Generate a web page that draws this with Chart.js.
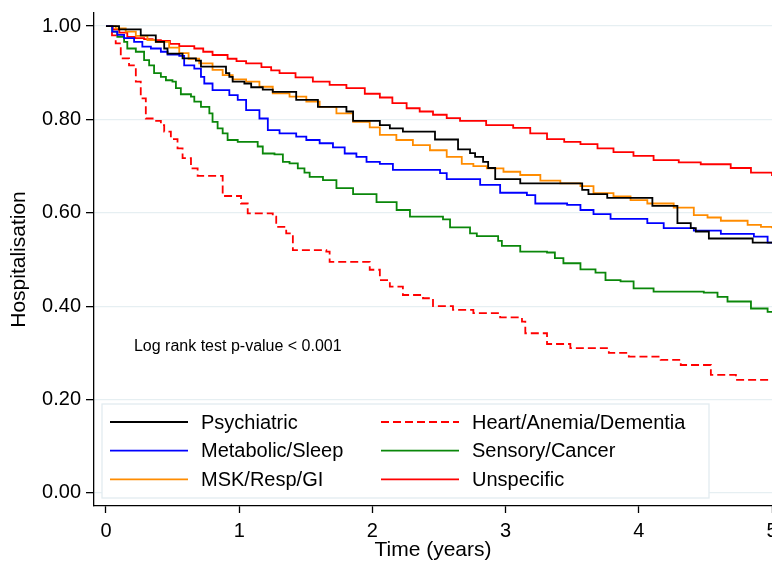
<!DOCTYPE html>
<html>
<head>
<meta charset="utf-8">
<script src="https://cdn.jsdelivr.net/npm/chart.js@4.4.1/dist/chart.umd.min.js"></script>
<style>
  html, body { margin: 0; padding: 0; background: #fff; }
</style>
</head>
<body>
<canvas id="kmChart" width="772" height="563"></canvas>
<script>
// Kaplan-Meier curves, time in years / proportion without hospitalisation
var labels = ["Psychiatric", "Metabolic/Sleep", "MSK/Resp/GI", "Heart/Anemia/Dementia", "Sensory/Cancer", "Unspecific"];
var xTicks = [0, 1, 2, 3, 4, 5];
var yTicks = [0, 0.2, 0.4, 0.6, 0.8, 1.0];

var psychT = [0, 0.098, 0.261, 0.374, 0.437, 0.462, 0.575, 0.675, 0.713, 0.901, 0.926, 0.951, 1.039, 1.090, 1.177, 1.252, 1.428, 1.591, 1.805, 1.855, 2.056, 2.131, 2.229, 2.470, 2.643, 2.733, 2.771, 2.831, 2.869, 2.922, 3.110, 3.575, 3.622, 3.763, 4.102, 4.290, 4.390, 4.428, 4.526, 4.855, 5.0];
var psychS = [1, 0.993, 0.980, 0.966, 0.952, 0.941, 0.931, 0.926, 0.913, 0.899, 0.891, 0.881, 0.877, 0.869, 0.864, 0.859, 0.842, 0.827, 0.817, 0.797, 0.788, 0.781, 0.774, 0.757, 0.736, 0.728, 0.720, 0.709, 0.696, 0.672, 0.663, 0.649, 0.640, 0.632, 0.615, 0.578, 0.567, 0.560, 0.545, 0.536, 0.536];

var metabT = [0, 0.047, 0.085, 0.136, 0.211, 0.273, 0.337, 0.412, 0.462, 0.550, 0.587, 0.663, 0.713, 0.738, 0.800, 0.926, 0.989, 1.052, 1.152, 1.215, 1.303, 1.428, 1.504, 1.604, 1.704, 1.792, 1.880, 1.956, 2.056, 2.154, 2.508, 2.558, 2.809, 2.959, 3.160, 3.223, 3.462, 3.562, 3.660, 3.788, 4.064, 4.187, 4.413, 4.616, 4.864, 4.967, 5.0];
var metabS = [1, 0.988, 0.981, 0.974, 0.966, 0.956, 0.952, 0.945, 0.939, 0.936, 0.916, 0.909, 0.891, 0.877, 0.863, 0.852, 0.842, 0.820, 0.802, 0.777, 0.770, 0.763, 0.756, 0.749, 0.740, 0.727, 0.720, 0.709, 0.705, 0.692, 0.685, 0.672, 0.660, 0.643, 0.638, 0.620, 0.617, 0.606, 0.597, 0.587, 0.578, 0.567, 0.562, 0.555, 0.549, 0.536, 0.536];

var mskT = [0, 0.073, 0.148, 0.224, 0.311, 0.374, 0.474, 0.550, 0.62, 0.700, 0.800, 0.876, 0.951, 1.052, 1.152, 1.252, 1.378, 1.504, 1.604, 1.730, 1.855, 1.980, 2.056, 2.18, 2.304, 2.432, 2.558, 2.671, 2.758, 2.859, 2.984, 3.110, 3.261, 3.411, 3.562, 3.660, 3.810, 3.938, 4.064, 4.262, 4.413, 4.516, 4.616, 4.817, 4.917, 5.0];
var mskS = [1, 0.995, 0.988, 0.979, 0.970, 0.966, 0.954, 0.942, 0.930, 0.920, 0.906, 0.895, 0.886, 0.881, 0.870, 0.856, 0.849, 0.838, 0.827, 0.813, 0.795, 0.783, 0.767, 0.756, 0.745, 0.734, 0.720, 0.705, 0.700, 0.695, 0.688, 0.681, 0.669, 0.663, 0.657, 0.642, 0.635, 0.627, 0.620, 0.611, 0.595, 0.590, 0.583, 0.574, 0.570, 0.567];

var heartT = [0, 0.045, 0.073, 0.111, 0.173, 0.224, 0.261, 0.299, 0.361, 0.412, 0.437, 0.487, 0.537, 0.575, 0.638, 0.688, 0.876, 1.014, 1.064, 1.252, 1.278, 1.353, 1.403, 1.654, 1.679, 1.980, 2.056, 2.131, 2.229, 2.380, 2.455, 2.605, 2.758, 2.959, 3.123, 3.148, 3.311, 3.486, 3.775, 3.925, 4.164, 4.315, 4.541, 4.729, 5.0];
var heartS = [1, 0.980, 0.963, 0.931, 0.916, 0.881, 0.845, 0.802, 0.797, 0.788, 0.774, 0.758, 0.738, 0.717, 0.695, 0.679, 0.636, 0.620, 0.599, 0.592, 0.570, 0.556, 0.520, 0.517, 0.495, 0.478, 0.456, 0.442, 0.424, 0.417, 0.400, 0.392, 0.385, 0.376, 0.367, 0.342, 0.319, 0.310, 0.300, 0.292, 0.285, 0.274, 0.253, 0.242, 0.242];

var sensT = [0, 0.047, 0.085, 0.136, 0.160, 0.224, 0.286, 0.324, 0.361, 0.412, 0.450, 0.499, 0.525, 0.562, 0.638, 0.663, 0.713, 0.776, 0.800, 0.838, 0.876, 0.913, 0.989, 1.139, 1.177, 1.265, 1.328, 1.378, 1.44, 1.49, 1.529, 1.629, 1.730, 1.855, 2.031, 2.182, 2.282, 2.530, 2.583, 2.733, 2.784, 2.944, 2.972, 3.110, 3.311, 3.37, 3.434, 3.562, 3.675, 3.750, 3.863, 3.961, 4.111, 4.488, 4.591, 4.666, 4.842, 4.967, 5.0];
var sensS = [1, 0.988, 0.977, 0.966, 0.952, 0.945, 0.927, 0.916, 0.899, 0.891, 0.884, 0.881, 0.867, 0.854, 0.849, 0.838, 0.827, 0.813, 0.795, 0.781, 0.770, 0.756, 0.752, 0.742, 0.727, 0.725, 0.709, 0.706, 0.695, 0.686, 0.677, 0.670, 0.653, 0.640, 0.623, 0.606, 0.592, 0.586, 0.569, 0.556, 0.550, 0.540, 0.529, 0.517, 0.515, 0.503, 0.492, 0.479, 0.472, 0.456, 0.453, 0.438, 0.431, 0.429, 0.420, 0.410, 0.395, 0.388, 0.388];

var unspT = [0, 0.05, 0.10, 0.160, 0.22, 0.286, 0.35, 0.412, 0.48, 0.550, 0.663, 0.73, 0.800, 0.913, 0.98, 1.052, 1.167, 1.24, 1.303, 1.423, 1.553, 1.679, 1.805, 1.943, 2.056, 2.15, 2.257, 2.355, 2.455, 2.558, 2.658, 2.854, 3.057, 3.185, 3.311, 3.44, 3.562, 3.69, 3.810, 3.96, 4.111, 4.30, 4.465, 4.69, 4.842, 5.0];
var unspS = [1, 0.993, 0.986, 0.977, 0.974, 0.972, 0.970, 0.968, 0.962, 0.957, 0.952, 0.945, 0.938, 0.930, 0.925, 0.920, 0.912, 0.905, 0.899, 0.890, 0.881, 0.874, 0.867, 0.855, 0.847, 0.835, 0.824, 0.817, 0.810, 0.803, 0.797, 0.788, 0.782, 0.770, 0.758, 0.752, 0.747, 0.738, 0.730, 0.722, 0.713, 0.708, 0.704, 0.696, 0.686, 0.679];

var noteText = "Log rank test p-value < 0.001";
var notePos = { x: 0.21, y: 0.313 };

var FONT = "'Liberation Sans', Arial, sans-serif";

function toPoints(ts, ss) {
  return ts.map(function (t, i) { return { x: t, y: ss[i] }; });
}

function km(label, ts, ss, color, dash) {
  return {
    label: label,
    data: toPoints(ts, ss),
    borderColor: color,
    borderWidth: 1.8,
    borderDash: dash || [],
    stepped: true,
    pointRadius: 0,
    fill: false
  };
}

// p-value note, placed in data coordinates
var notePlugin = {
  id: 'note',
  afterDatasetsDraw: function (chart) {
    var ctx = chart.ctx;
    var px = chart.scales.x.getPixelForValue(notePos.x);
    var py = chart.scales.y.getPixelForValue(notePos.y);
    ctx.save();
    ctx.font = "16px " + FONT;
    ctx.fillStyle = '#000';
    ctx.textAlign = 'left';
    ctx.textBaseline = 'middle';
    ctx.fillText(noteText, px, py);
    ctx.restore();
  }
};

// boxed 2-column legend inside the plot, like the Stata one
var boxLegend = {
  id: 'boxLegend',
  afterDraw: function (chart) {
    var ctx = chart.ctx;
    var ca = chart.chartArea;
    var x0 = ca.left + 8, y0 = 404, w = 607, h = 94;
    ctx.save();
    ctx.fillStyle = '#fff';
    ctx.fillRect(x0, y0, w, h);
    ctx.strokeStyle = '#e2ecf0';
    ctx.lineWidth = 1.3;
    ctx.strokeRect(x0, y0, w, h);
    ctx.font = "20px " + FONT;
    ctx.textAlign = 'left';
    ctx.textBaseline = 'middle';
    chart.data.datasets.forEach(function (ds, i) {
      var col = Math.floor(i / 3), row = i % 3;
      var lx = x0 + 8 + col * 271;
      var ly = y0 + 18 + row * 28.7;
      ctx.strokeStyle = ds.borderColor;
      ctx.lineWidth = 1.8;
      ctx.setLineDash(ds.borderDash);
      ctx.beginPath();
      ctx.moveTo(lx, ly);
      ctx.lineTo(lx + 78, ly);
      ctx.stroke();
      ctx.setLineDash([]);
      ctx.fillStyle = '#000';
      ctx.fillText(ds.label, lx + 91, ly + 1);
    });
    ctx.restore();
  }
};

var ctx = document.getElementById("kmChart").getContext('2d');
var kmChart = new Chart(ctx, {
  type: 'line',
  data: {
    datasets: [
      km(labels[0], psychT, psychS, '#000000'),
      km(labels[1], metabT, metabS, '#0000ff'),
      km(labels[2], mskT, mskS, '#ff8c00'),
      km(labels[3], heartT, heartS, '#ff0000', [8, 4]),
      km(labels[4], sensT, sensS, '#0a870a'),
      km(labels[5], unspT, unspS, '#ff0000')
    ]
  },
  options: {
    responsive: false,
    animation: false,
    layout: { autoPadding: false, padding: { top: 13, left: 0, right: 0, bottom: 0 } },
    plugins: {
      legend: { display: false },
      tooltip: { enabled: false }
    },
    scales: {
      x: {
        type: 'linear',
        min: -0.09,
        max: 5,
        afterBuildTicks: function (scale) {
          scale.ticks = xTicks.map(function (v) { return { value: v }; });
        },
        afterFit: function (scale) {
          scale.height = 57;
          scale.paddingLeft = 0;
          scale.paddingRight = 0;
        },
        grid: { drawOnChartArea: false, tickLength: 7, tickColor: '#000', tickWidth: 1.3 },
        border: { color: '#000', width: 1.3 },
        ticks: { color: '#000', padding: 6, maxRotation: 0, font: { family: FONT, size: 20 } },
        title: {
          display: true, text: 'Time (years)', color: '#000',
          font: { family: FONT, size: 21 }, padding: { top: 0, bottom: 0 }
        }
      },
      y: {
        min: -0.028,
        max: 1.028,
        afterBuildTicks: function (scale) {
          scale.ticks = yTicks.map(function (v) { return { value: v }; });
        },
        afterFit: function (scale) {
          scale.width = 94;
          scale.paddingTop = 0;
          scale.paddingBottom = 0;
        },
        grid: { color: '#e6eff2', lineWidth: 1.3, tickLength: 8, tickColor: '#000', tickWidth: 1.3 },
        border: { color: '#000', width: 1.3 },
        ticks: {
          color: '#000', padding: 5, font: { family: FONT, size: 20 },
          callback: function (v) { return v.toFixed(2); }
        },
        title: {
          display: true, text: 'Hospitalisation', color: '#000',
          font: { family: FONT, size: 21 }, padding: { top: 7, bottom: 0 }
        }
      }
    }
  },
  plugins: [notePlugin, boxLegend]
});
</script>
</body>
</html>
